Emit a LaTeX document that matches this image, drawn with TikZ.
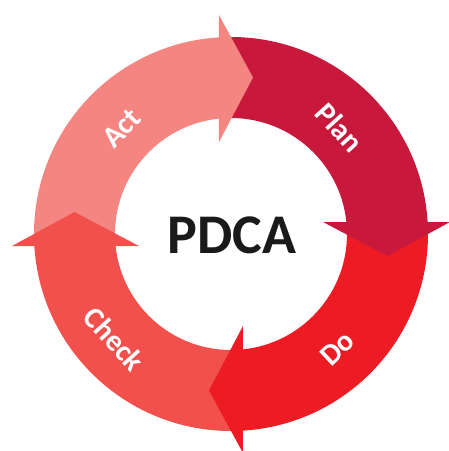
\documentclass[tikz,border=0pt]{standalone}
\usepackage{fontspec}
\setmainfont{Carlito}
\definecolor{actc}{RGB}{245,133,128}
\definecolor{planc}{RGB}{200,24,60}
\definecolor{doc}{RGB}{237,28,36}
\definecolor{checkc}{RGB}{241,80,77}
\definecolor{inkc}{RGB}{26,26,26}
\newcommand\ringbody[2]{%
  \fill[#2,rotate=#1] (0:116) -- (0:197) arc[start angle=0,end angle=90,radius=197]
    -- (90:116) arc[start angle=90,end angle=0,radius=116] -- cycle;}
\newcommand\ringhead[2]{%
  \fill[#2,rotate=#1] (92,12) -- (219,12) -- (156.5,-22) -- cycle;}
\begin{document}
\begin{tikzpicture}[x=1pt,y=1pt,
  lab/.style={text=white,font=\bfseries\fontsize{30}{30}\selectfont,inner sep=0pt}]
\useasboundingbox (-231,-217) rectangle (218,234);
\ringbody{0}{planc}
\ringbody{90}{actc}
\ringbody{180}{checkc}
\ringbody{270}{doc}
\ringhead{0}{planc}
\ringhead{90}{actc}
\ringhead{180}{checkc}
\ringhead{270}{doc}
\node[lab,rotate=-48] (plan) at (44.5:152) {Plan};
\node[lab,rotate=43] (do) at (-47:156) {Do};
\node[lab,rotate=-48] (check) at (222:157) {Check};
\node[lab,rotate=46] (act) at (136:152) {Act};
\node[text=inkc,font=\bfseries\fontsize{56}{56}\selectfont,inner sep=0pt] (pdca) at (1,-1) {PDCA};
\end{tikzpicture}
\end{document}
